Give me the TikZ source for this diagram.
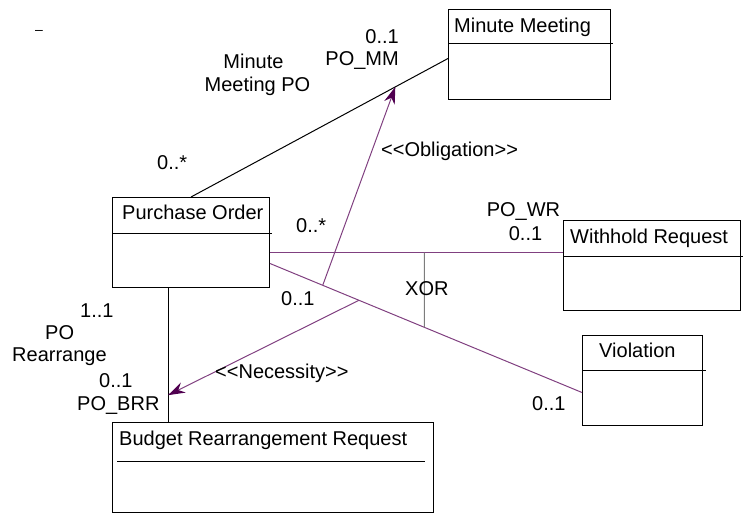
\documentclass[tikz,border=0pt]{standalone}
\usepackage{fontspec}
\setmainfont{Liberation Sans}
\usepackage{tikz}
\usetikzlibrary{arrows.meta, calc}
\definecolor{assocpurple}{RGB}{128,64,128}
\definecolor{tippurple}{RGB}{80,0,80}
\definecolor{xorgrey}{RGB}{125,125,125}

\begin{document}
\begin{tikzpicture}[x=1pt, y=-1pt, font=\fontsize{20}{24}\selectfont]
\tikzstyle{classbox} = [rectangle, draw=black, anchor=north west, inner sep=0pt, line width=1pt, minimum height=90pt]
\tikzstyle{classname} = [anchor=base west, inner sep=0pt]
\tikzstyle{divider} = [line width=1pt]
\tikzstyle{assoc} = [line width=1pt]
\tikzstyle{deontic} = [assocpurple, line width=1pt, -{Stealth[length=17pt, width=11pt, color=tippurple]}]
\tikzstyle{mult} = [inner sep=0pt]

\useasboundingbox (0,0) rectangle (743,513);

% Classes
\node[classbox, minimum width=162pt] (mm) at (448,9) {};
\node[classbox, minimum width=157pt] (po) at (112,197) {};
\node[classbox, minimum width=177pt] (wr) at (563,220) {};
\node[classbox, minimum width=120pt] (vio) at (582,335) {};
\node[classbox, minimum width=321pt] (brr) at (112,422) {};

\node[classname] (mmname) at (454,33) {Minute Meeting};
\node[classname] (poname) at (122,219) {Purchase Order};
\node[classname] (wrname) at (570,243) {Withhold Request};
\node[classname] (vioname) at (599,357) {Violation};
\node[classname] (brrname) at (119,445) {Budget Rearrangement Request};

% Dividers
\draw[divider] ([yshift=-35pt]mm.north west) -- ([yshift=-35pt, xshift=2pt]mm.north east);
\draw[divider] ([yshift=-36pt]po.north west) -- ([yshift=-36pt, xshift=2pt]po.north east);
\draw[divider] ([yshift=-36pt]wr.north west) -- ([yshift=-36pt, xshift=3pt]wr.north east);
\draw[divider] ([yshift=-35pt]vio.north west) -- ([yshift=-35pt, xshift=3pt]vio.north east);
\draw[divider] ([yshift=-39pt, xshift=5pt]brr.north west) -- ([yshift=-39pt, xshift=-9pt]brr.north east);

% Associations
\draw[assoc] (po.north) -- coordinate[pos=0.795] (oblend) ([yshift=-4pt]mm.west);
\draw[assoc] ([xshift=-23pt]po.south) -- coordinate[pos=0.8] (necend) ([xshift=-23pt]po.south |- brr.north);
\draw[assoc, assocpurple] ([yshift=-10pt]po.east) -- coordinate[pos=0.527] (xortop) ([yshift=-10pt]po.east -| wr.west);
\draw[assoc, assocpurple] ([yshift=-21pt]po.east) -- coordinate[pos=0.169] (oblstart) coordinate[pos=0.285] (necstart) coordinate[pos=0.495] (xorbot) ([yshift=-12pt]vio.west);
\draw[xorgrey, line width=1pt] (xortop) -- (xorbot);

% Deontic dependencies
\draw[deontic] (oblstart) -- (oblend);
\draw[deontic] (necstart) -- (necend);

% Labels
\node[mult] (dash) at (39,32) {\fontsize{14}{16}\selectfont --};
\node[mult, anchor=base east] (mmmult) at (399,44) {0..1};
\node[mult, anchor=base east] (mmrole) at (399,66) {PO\_MM};
\node[mult, anchor=base] (porole1) at (253.5,69) {Minute};
\node[mult, anchor=base] (porole2) at (257.5,92) {Meeting PO};
\node[mult, anchor=base west] (pommult) at (157,169) {0..*};
\node[mult, anchor=base west] (obl) at (381,157) {{<}{<}Obligation{>}{>}};
\node[mult, anchor=base west] (powrmult) at (296,232) {0..*};
\node[mult, anchor=base west] (povmult) at (281,305) {0..1};
\node[mult, anchor=base west] (xor) at (405,295) {XOR};
\node[mult, anchor=base] (wrrole) at (523.5,216) {PO\_WR};
\node[mult, anchor=base] (wrmult) at (525.5,240) {0..1};
\node[mult, anchor=base west] (viomult) at (532,410) {0..1};
\node[mult, anchor=base west] (pobrrmult) at (80,317) {1..1};
\node[mult, anchor=base west] (porole3) at (45,339) {PO};
\node[mult, anchor=base west] (porole4) at (12,361) {Rearrange};
\node[mult, anchor=base west] (brrmult) at (99,387) {0..1};
\node[mult, anchor=base west] (brrrole) at (77,410) {PO\_BRR};
\node[mult, anchor=base west] (nec) at (215,378) {{<}{<}Necessity{>}{>}};
\end{tikzpicture}
\end{document}
